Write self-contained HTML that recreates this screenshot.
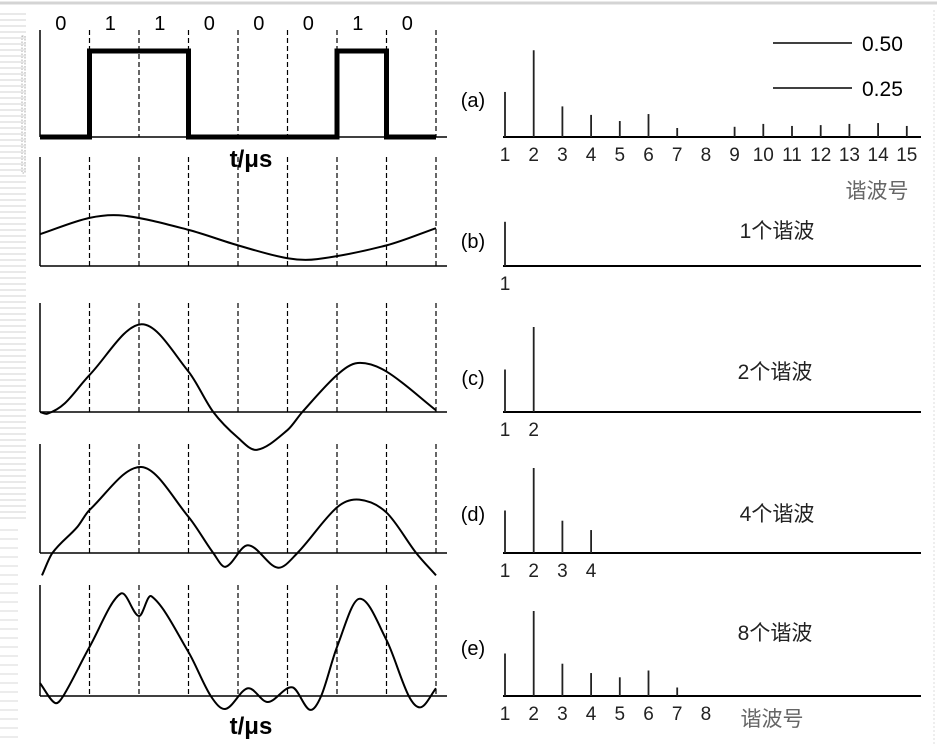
<!DOCTYPE html>
<html><head><meta charset="utf-8"><style>
html,body{margin:0;padding:0;background:#fff;}
svg{display:block;font-family:"Liberation Sans","Noto Sans CJK SC",sans-serif;}
</style></head><body>
<svg id="fig" width="937" height="745" viewBox="0 0 937 745" xmlns="http://www.w3.org/2000/svg">
<g id="chrome">
<line x1="0" y1="3" x2="937" y2="3" stroke="#d4d4d4" stroke-width="3"/>
<line x1="934" y1="10" x2="934" y2="745" stroke="#ddd" stroke-width="1" stroke-dasharray="2,2"/>
<rect x="22" y="36" width="3" height="137" fill="none" stroke="#999" stroke-width="0.8" stroke-dasharray="1.5,1.5"/>
</g>
<g id="stripes"></g>
<g id="wave"></g>
<g id="spec"></g>
</svg>
<script>
// ---- Data ----
const bits = [0,1,1,0,0,0,1,0];
const waveBT = [0,1,1.7,3,4,5,5.6,7,8];
const waveBV = [0.37,0.56,0.585,0.42,0.24,0.09,0.08,0.24,0.44];
const waveCT = [0,0.15,0.5,1,2.05,3,3.5,4,4.38,5,5.3,6,6.42,7,8];
const waveCV = [0,-0.02,0.1,0.43,1.02,0.47,0,-0.3,-0.44,-0.21,0,0.43,0.57,0.47,0.02];
const waveDT = [0.04,0.25,0.75,1,2.05,3,3.5,3.75,4.2,4.8,5.2,6,6.45,7,7.6,8];
const waveDV = [-0.26,0,0.3,0.5,1.0,0.42,0,-0.16,0.09,-0.17,0,0.53,0.62,0.47,0,-0.26];
const waveET = [0,0.3,0.47,1,1.63,2,2.25,3,3.45,3.75,4.2,4.6,5.1,5.45,5.68,6,6.45,7,7.45,7.7,8];
const waveEV = [0.15,-0.08,0,0.57,1.19,0.93,1.16,0.51,0,-0.15,0.09,-0.07,0.1,-0.16,0,0.57,1.13,0.65,0,-0.13,0.09];
const specA = [0.265,0.51,0.18,0.13,0.094,0.135,0.053,0,0.06,0.077,0.065,0.07,0.077,0.082,0.065];
const specB = [0.26];
const specC = [0.25,0.5];
const specD = [0.25,0.5,0.19,0.135];
const specE = [0.25,0.5,0.19,0.135,0.11,0.15,0.05];
const ticksA = ["1","2","3","4","5","6","7","8","9","10","11","12","13","14","15"];
const ticksB = ["1"];
const ticksC = ["1","2"];
const ticksD = ["1","2","3","4"];
const ticksE = ["1","2","3","4","5","6","7","8"];
const legendVals = ["0.50","0.25"];

const NS="http://www.w3.org/2000/svg";
function mk(tag, attrs, parent){const e=document.createElementNS(NS,tag);for(const k in attrs)e.setAttribute(k,attrs[k]);parent.appendChild(e);return e;}

const st=document.getElementById('stripes');
for(let y=14;y<520;y+=6){mk('line',{x1:0,y1:y,x2:26,y2:y,stroke:'#e2e2e2','stroke-width':1.5},st);}
for(let y=530;y<745;y+=9){mk('line',{x1:0,y1:y,x2:18,y2:y,stroke:'#e6e6e6','stroke-width':1.5},st);}

const X0=40, BW=49.5, PX=86;
const tx = t => X0 + t*BW;
const wave=document.getElementById('wave');
function panel(name, top, base){
  const g=mk('g',{},wave);
  
  
  mk('line',{x1:X0,y1:top,x2:X0,y2:base,stroke:'#000','stroke-width':1.5},g);
  mk('line',{x1:X0,y1:base,x2:447,y2:base,stroke:'#000','stroke-width':1.5},g);
  for(let i=1;i<=8;i++){
    const d=mk('line',{x1:tx(i),y1:top,x2:tx(i),y2:base,stroke:'#000','stroke-width':1.2,'stroke-dasharray':'5,3'},g);
    
    
  }
  return g;
}
function smooth(T,V,base,g,name){
  const n=T.length;
  const m=T.map((t,i)=>{
    const a=Math.max(0,i-1), b=Math.min(n-1,i+1);
    return (V[b]-V[a])/(T[b]-T[a]);
  });
  const Y=v=>base - v*PX;
  let d=`M${tx(T[0])},${Y(V[0])}`;
  for(let i=0;i<n-1;i++){
    const dt=T[i+1]-T[i];
    const c1x=tx(T[i]+dt/3), c1y=Y(V[i]+m[i]*dt/3);
    const c2x=tx(T[i+1]-dt/3), c2y=Y(V[i+1]-m[i+1]*dt/3);
    d+=` C${c1x},${c1y} ${c2x},${c2y} ${tx(T[i+1])},${Y(V[i+1])}`;
  }
  const p=mk('path',{d:d,fill:'none',stroke:'#000','stroke-width':2},g);
  
  
}
const ga=panel('waveform-a',30,137);
{
  let d=`M${X0},137`; let prev=0;
  bits.forEach((b,i)=>{const y=137-b*PX; if(b!==prev){d+=` L${tx(i)},${137-prev*PX} L${tx(i)},${y}`;} prev=b;});
  d+=` L${tx(8)},${137-prev*PX}`;
  const p=mk('path',{d:d,fill:'none',stroke:'#000','stroke-width':5},ga);
  
  
  bits.forEach((b,i)=>{const t=mk('text',{x:tx(i)+BW/2-4,y:30,'font-size':20,'text-anchor':'middle'},ga);t.textContent=b;
    
    });
  const xl=mk('text',{x:251,y:167,'font-size':24,'font-weight':'bold','text-anchor':'middle'},ga);xl.textContent='t/μs';
  
  
}
const gb=panel('waveform-b',157,266); smooth(waveBT,waveBV,266,gb,'curve-1-harmonic');
const gc=panel('waveform-c',303,412); smooth(waveCT,waveCV,412,gc,'curve-2-harmonics');
const gd=panel('waveform-d',444,553); smooth(waveDT,waveDV,553,gd,'curve-4-harmonics');
const ge=panel('waveform-e',585,696); smooth(waveET,waveEV,696,ge,'curve-8-harmonics');
{const xl=mk('text',{x:251,y:734,'font-size':24,'font-weight':'bold','text-anchor':'middle'},ge);xl.textContent='t/μs';
  
  }

const SX0=505, SDX=28.7, SPX=170;
const sx = n => SX0 + (n-1)*SDX;
const spec=document.getElementById('spec');
function spectrum(name,vals,ticks,base,label,labelY,cap,capX,capY){
  const g=mk('g',{},spec);
  
  
  mk('line',{x1:503,y1:base,x2:921,y2:base,stroke:'#000','stroke-width':2},g);
  vals.forEach((v,i)=>{ if(v<=0) return;
    const l=mk('line',{x1:sx(i+1),y1:base,x2:sx(i+1),y2:base-v*SPX,stroke:'#222','stroke-width':1.8},g);
    
    });
  ticks.forEach((s,i)=>{const t=mk('text',{x:sx(i+1),y:base+24,'font-size':19,'text-anchor':'middle',fill:'#222'},g);t.textContent=s;
    
    });
  const lb=mk('text',{x:473,y:labelY,'font-size':20,'text-anchor':'middle'},g);lb.textContent=label;
  
  
  if(cap){const c=mk('text',{x:capX,y:capY,'font-size':21,'text-anchor':'middle',fill:'#222'},g);c.textContent=cap;
    
    }
  return g;
}
const sa=spectrum('spectrum-a',specA,ticksA,137,'(a)',107);
const sb=spectrum('spectrum-b',specB,ticksB,266,'(b)',248,'1个谐波',777,238);
const sc=spectrum('spectrum-c',specC,ticksC,412,'(c)',385,'2个谐波',775,379);
const sd=spectrum('spectrum-d',specD,ticksD,553,'(d)',521,'4个谐波',777,521);
const se=spectrum('spectrum-e',specE,ticksE,696,'(e)',655,'8个谐波',775,640);
{const t=mk('text',{x:877,y:198,'font-size':21,'text-anchor':'middle',fill:'#666'},sa);t.textContent='谐波号';
  
  }
{const t=mk('text',{x:772,y:726,'font-size':21,'text-anchor':'middle',fill:'#666'},se);t.textContent='谐波号';
  
  }
legendVals.forEach((s,i)=>{
  const y=[43,88][i];
  const g=mk('g',{},spec);
  
  
  mk('line',{x1:773,y1:y,x2:852,y2:y,stroke:'#000','stroke-width':1.5},g);
  const t=mk('text',{x:862,y:y+8,'font-size':21},g);t.textContent=s;
});
</script>
</body></html>
